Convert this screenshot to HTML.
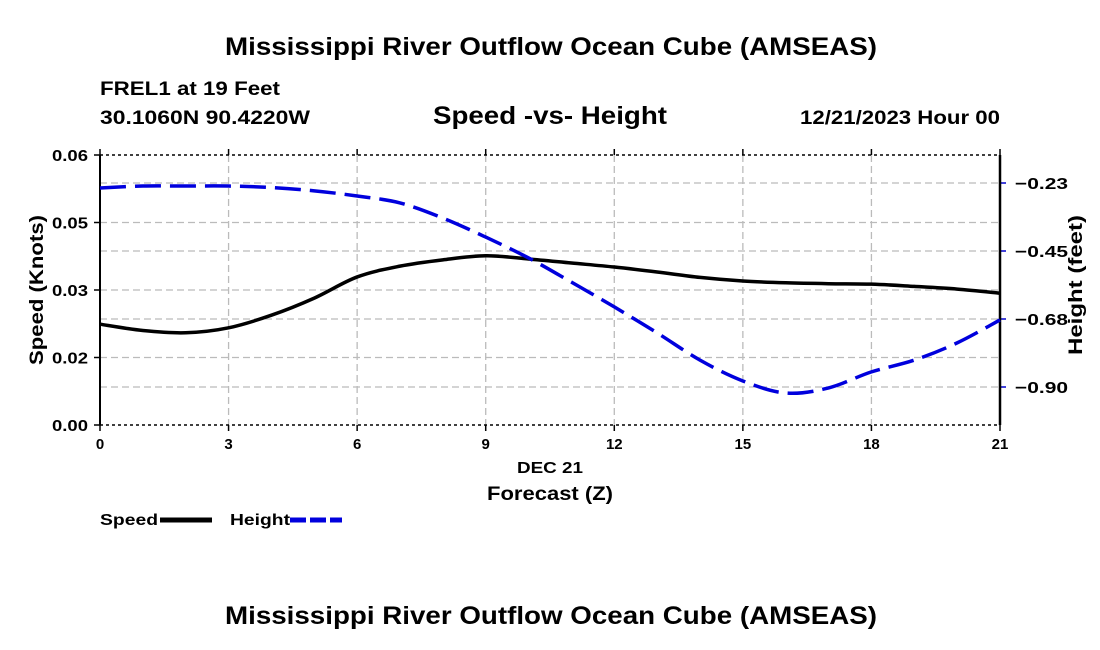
<!DOCTYPE html>
<html><head><meta charset="utf-8"><style>
body{margin:0;background:#fff;}
svg{display:block;font-family:"Liberation Sans",Arial,sans-serif;font-weight:bold;}
</style></head><body>
<svg id="c" width="1100" height="650">
<text x="225" y="55" font-size="25" textLength="652" lengthAdjust="spacingAndGlyphs">Mississippi River Outflow Ocean Cube (AMSEAS)</text>
<text x="100" y="95" font-size="19" textLength="180" lengthAdjust="spacingAndGlyphs">FREL1 at 19 Feet</text>
<text x="100" y="124" font-size="19" textLength="210" lengthAdjust="spacingAndGlyphs">30.1060N  90.4220W</text>
<text x="433" y="124" font-size="25" textLength="234" lengthAdjust="spacingAndGlyphs">Speed -vs- Height</text>
<text x="800" y="124" font-size="19" textLength="200" lengthAdjust="spacingAndGlyphs">12/21/2023 Hour 00</text>
<g id="grid"></g>
<g id="axes"></g>
<g id="series"></g>
<text x="517" y="473" font-size="16" textLength="66" lengthAdjust="spacingAndGlyphs">DEC 21</text>
<text x="487" y="500" font-size="19" textLength="126" lengthAdjust="spacingAndGlyphs">Forecast (Z)</text>
<text transform="translate(43,365) rotate(-90)" font-size="19" textLength="150" lengthAdjust="spacingAndGlyphs">Speed (Knots)</text>
<text transform="translate(1082,355) rotate(-90)" font-size="19" textLength="140" lengthAdjust="spacingAndGlyphs">Height (feet)</text>
<g>
<text x="100" y="525" font-size="16" textLength="58" lengthAdjust="spacingAndGlyphs">Speed</text>
<line x1="160" y1="520" x2="212" y2="520" stroke="#000" stroke-width="5"/>
</g>
<g>
<text x="230" y="525" font-size="16" textLength="60" lengthAdjust="spacingAndGlyphs">Height</text>
<line x1="290" y1="520" x2="342" y2="520" stroke="#0000dd" stroke-width="5" stroke-dasharray="16,4"/>
</g>
<text x="225" y="624" font-size="25" textLength="652" lengthAdjust="spacingAndGlyphs">Mississippi River Outflow Ocean Cube (AMSEAS)</text>
</svg>
<script>
const hours=[0,1,2,3,4,5,6,7,8,9,10,11,12,13,14,15,16,17,18,19,20,21];
const speed=[0.0224,0.0210,0.0205,0.0216,0.0244,0.0282,0.0329,0.0353,0.0367,0.0376,0.0369,0.0360,0.0351,0.0340,0.0328,0.0320,0.0316,0.0314,0.0313,0.0308,0.0302,0.0293];
const height=[-0.2415,-0.235,-0.235,-0.235,-0.240,-0.251,-0.268,-0.291,-0.341,-0.404,-0.473,-0.553,-0.635,-0.721,-0.811,-0.880,-0.920,-0.903,-0.850,-0.811,-0.754,-0.678];
const xTicks=[0,3,6,9,12,15,18,21];
const yTicks=[0,0.015,0.03,0.045,0.06];
const yTickLabels=["0.00","0.02","0.03","0.05","0.06"];
const y2Ticks=[-0.225,-0.45,-0.675,-0.9];
const y2TickLabels=["\u22120.23","\u22120.45","\u22120.68","\u22120.90"];
const L=100,R=1000,T=155,B=425;
const X=h=>L+(h-0)/21*(R-L);
const Y=v=>B-(v/0.06)*(B-T);
const Y2=v=>183+(-0.225-v)/0.675*204;
const NS='http://www.w3.org/2000/svg';
function mk(p,tag,a){const e=document.createElementNS(NS,tag);for(const k in a)e.setAttribute(k,a[k]);p.appendChild(e);return e;}
const grid=document.getElementById('grid'),axes=document.getElementById('axes'),ser=document.getElementById('series');
xTicks.forEach(t=>{
  if(t>0&&t<21){const l=mk(grid,'line',{x1:X(t),x2:X(t),y1:T,y2:B,stroke:'#bbb','stroke-width':1.3,'stroke-dasharray':'7,4'});
  
  }
  const tx=mk(axes,'text',{x:X(t),y:B+24,'font-size':15,'text-anchor':'middle'});tx.textContent=t;
  
  
  mk(axes,'line',{x1:X(t),x2:X(t),y1:B,y2:B+6,stroke:'#000','stroke-width':1.5});
  mk(axes,'line',{x1:X(t),x2:X(t),y1:T,y2:T-6,stroke:'#000','stroke-width':1.5});
});
yTicks.forEach((t,i)=>{
  if(i>0&&i<yTicks.length-1){const l=mk(grid,'line',{x1:L,x2:R,y1:Y(t),y2:Y(t),stroke:'#bbb','stroke-width':1.3,'stroke-dasharray':'7,4'});
  
  }
  mk(axes,'line',{x1:L-6,x2:L,y1:Y(t),y2:Y(t),stroke:'#000','stroke-width':1.5});
  const tx=mk(axes,'text',{x:52,y:Y(t)+6,'font-size':16,textLength:36,lengthAdjust:'spacingAndGlyphs'});tx.textContent=yTickLabels[i];
  
  
});
y2Ticks.forEach((t,i)=>{
  const l=mk(grid,'line',{x1:L,x2:R,y1:Y2(t),y2:Y2(t),stroke:'#bbb','stroke-width':1.3,'stroke-dasharray':'7,4'});
  
  
  mk(axes,'line',{x1:R,x2:R+6,y1:Y2(t),y2:Y2(t),stroke:'#0000cc','stroke-width':1.5});
  const tx=mk(axes,'text',{x:R+15,y:Y2(t)+6,'font-size':16,textLength:53,lengthAdjust:'spacingAndGlyphs'});tx.textContent=y2TickLabels[i];
  
  
});
mk(axes,'line',{x1:L,x2:R,y1:T,y2:T,stroke:'#000','stroke-width':1.5,'stroke-dasharray':'3,3'});
mk(axes,'line',{x1:L,x2:R,y1:B,y2:B,stroke:'#000','stroke-width':1.5,'stroke-dasharray':'3,3'});
mk(axes,'line',{x1:L,x2:L,y1:T,y2:B,stroke:'#000','stroke-width':2});
mk(axes,'line',{x1:R,x2:R,y1:T,y2:B,stroke:'#000','stroke-width':2.5});
function smooth(pts){let d='M'+pts[0][0]+','+pts[0][1];
  for(let i=0;i<pts.length-1;i++){const p0=pts[i-1]||pts[i],p1=pts[i],p2=pts[i+1],p3=pts[i+2]||p2;
    d+=' C'+(p1[0]+(p2[0]-p0[0])/6)+','+(p1[1]+(p2[1]-p0[1])/6)+' '+(p2[0]-(p3[0]-p1[0])/6)+','+(p2[1]-(p3[1]-p1[1])/6)+' '+p2[0]+','+p2[1];}
  return d;}
const sp=mk(ser,'path',{d:smooth(hours.map((h,i)=>[X(h),Y(speed[i])])),fill:'none',stroke:'#000','stroke-width':3.5});


const hp=mk(ser,'path',{d:smooth(hours.map((h,i)=>[X(h),Y2(height[i])])),fill:'none',stroke:'#0000dd','stroke-width':3.5,'stroke-dasharray':'26,9'});


</script>
</body></html>
